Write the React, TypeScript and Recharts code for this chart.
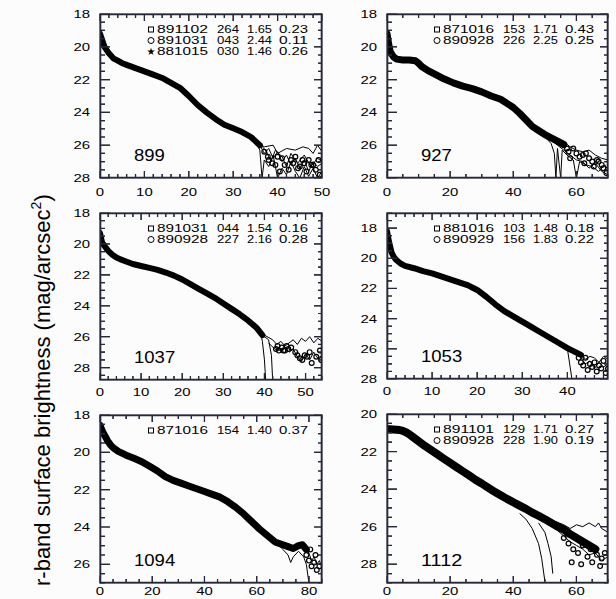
import React from 'react';
import { ComposedChart, Line, XAxis, YAxis } from 'recharts';

type Pt = [number, number];

// ---------- galaxy 899 ----------
const g899Band: Pt[] = [[0,19.2],[0.5,19.6],[1,20.0],[2,20.4],[3,20.7],[4,20.85],[5,21.0],[6,21.1],[8,21.3],[10,21.5],[12,21.7],[14,21.9],[16,22.2],[18,22.5],[20,23.0],[22,23.55],[24,24.0],[26,24.4],[28,24.75],[30,24.97],[32,25.2],[34,25.5],[35,25.75],[36,26.0]];
const g899TailA: Pt[] = [[35,25.6],[36,26.0],[37,26.5],[38,26.2],[39,26.8],[40,26.4],[41,27.0],[42,26.6],[43,27.2],[44,26.8],[45,27.4],[46,26.9],[47,27.6],[48,27.0],[49,27.3],[50,27.1]];
const g899TailB: Pt[] = [[35,25.8],[36,26.3],[36.5,28],[37,26.9],[38,27.3],[39,26.6],[40,28],[41,27.4],[42,27.8],[43,27.0],[44,27.6],[45,28],[46,27.3],[47,27.9],[48,27.4],[49,28],[50,27.6]];
const g899TailC: Pt[] = [[35,25.7],[37,26.1],[39,26.0],[40,26.5],[42,26.2],[44,26.3],[45.7,26.1],[47,26.2],[48,26.5],[49,26.0],[50,26.4]];
const g899TailD: Pt[] = [[36,25.9],[37.5,26.4],[38.5,27.0],[39.5,26.3],[41,26.7],[42,27.3],[43,26.5],[44.5,27.1],[46,26.6],[47.5,27.3],[49,26.8],[50,27.0]];
const g899Dots: Pt[] = [[37,26.4],[37.8,26.7],[38,26.9],[38.8,27.1],[39.5,27.2],[40,26.7],[40.5,27.6],[41,26.8],[41.6,27.2],[42.5,27.5],[43,26.9],[43.5,27.1],[44,26.7],[44.6,27.4],[45,27.3],[45.6,26.9],[46.5,27.6],[47,26.9],[47.6,27.2],[48,27.2],[48.6,27.5],[49.5,27.8],[49.2,26.9],[46,27.1]];

// ---------- galaxy 927 ----------
const g927Band: Pt[] = [[0,19.2],[0.5,19.8],[1,20.3],[2,20.6],[3,20.75],[5,20.8],[7,20.8],[9,20.85],[10,21.0],[11,21.2],[13,21.45],[15,21.65],[18,21.95],[21,22.2],[24,22.4],[27,22.55],[30,22.75],[33,23.0],[36,23.2],[38,23.45],[40,23.7],[42,24.05],[44,24.45],[46,24.85],[48,25.1],[50,25.35],[52,25.55],[54,25.75],[56,25.95]];
const g927TailA: Pt[] = [[50,25.5],[52,25.9],[53,26.5],[53.5,28],[54,26.2],[55,28],[55.5,26.3],[57,26.6],[59,26.9],[60,28],[61,27.0],[63,27.2],[65,27.3],[67,27.6],[69,27.2],[70,27.5]];
const g927TailB: Pt[] = [[50,25.2],[52,25.4],[54,25.6],[56,25.8],[58,26.1],[60,26.3],[62,26.4],[64,26.3],[66,26.6],[68,26.8],[70,26.9]];
const g927TailC: Pt[] = [[52,25.7],[54,26.0],[56,26.3],[58,26.6],[60,26.9],[62,27.0],[64,27.4],[66,27.1],[68,27.6],[70,27.8]];
const g927Dots: Pt[] = [[55,25.9],[56,26.0],[57,26.2],[57.5,26.4],[58,26.8],[59,26.2],[60,26.5],[61,26.7],[62,26.6],[62.5,27.1],[63,26.5],[64,26.8],[65,27.0],[65.5,27.3],[66.5,26.9],[67,27.0],[68,27.2],[68.5,27.4],[69.5,27.7]];

// ---------- galaxy 1037 ----------
const g1037Band: Pt[] = [[0,19.3],[0.5,19.9],[1,20.1],[2,20.45],[3,20.7],[4,20.88],[5,21.0],[6,21.1],[8,21.3],[10,21.43],[12,21.55],[14,21.68],[16,21.85],[18,22.05],[20,22.3],[22,22.6],[24,22.9],[26,23.2],[28,23.5],[30,23.85],[32,24.2],[34,24.55],[36,24.95],[38,25.4],[39.5,25.9]];
const g1037TailA: Pt[] = [[39,25.7],[39.5,26.3],[40,27.5],[40.3,28.8]];
const g1037TailB: Pt[] = [[40,26.0],[41,26.2],[41.7,27.2],[42,28.8]];
const g1037TailC: Pt[] = [[40,25.9],[42,26.2],[43,26.5],[44,26.3],[45,26.6],[46,26.4],[47,26.2],[48,26.5],[49,26.1],[50,26.3],[51,26.0],[52,26.4],[53,26.1],[54,26.3]];
const g1037TailD: Pt[] = [[41,26.4],[42.5,26.8],[44,26.9],[45,26.7],[46,27.0],[47,26.8],[48,27.3],[49,27.6],[50,27.1],[51,27.5],[52,27.0],[53,27.4],[54,27.2]];
const g1037Dots: Pt[] = [[42.8,26.8],[43.2,26.6],[43.5,26.9],[44.2,26.7],[44.6,26.9],[45,26.9],[45.4,26.6],[45.8,26.8],[46.5,26.7],[47.5,27.0],[48,27.2],[48.6,27.4],[49.2,27.5],[49.8,27.2],[50.4,27.3],[51,27.0],[51.5,27.7],[52.6,27.3],[53.5,26.9],[53.8,27.5]];

// ---------- galaxy 1053 ----------
const g1053Band: Pt[] = [[0,18.2],[0.3,18.7],[0.6,19.1],[1,19.6],[1.5,19.9],[2,20.1],[3,20.35],[4,20.5],[6,20.66],[8,20.85],[10,21.0],[12,21.2],[14,21.4],[16,21.6],[18,21.8],[19,21.95],[20,22.1],[22,22.55],[24,23.05],[26,23.5],[28,23.85],[30,24.2],[32,24.55],[34,24.9],[36,25.25],[38,25.6],[40,25.95],[42,26.25],[43,26.4]];
const g1053TailA: Pt[] = [[40,26.0],[40.5,27.0],[41,28]];
const g1053TailB: Pt[] = [[42,26.2],[43,26.6],[44,27.0],[45,26.8],[46,27.3],[47,26.9],[48,27.2],[49,27.0]];
const g1053TailC: Pt[] = [[42,26.4],[43,26.3],[44,26.7],[45,26.5],[46,26.6],[47,26.9],[48,26.5],[49,26.7]];
const g1053Dots: Pt[] = [[42.5,26.6],[43,26.9],[43.5,27.1],[44,26.6],[44.5,27.4],[45,27.0],[45.5,27.2],[46,26.9],[46.5,27.5],[47,27.1],[47.5,27.3],[48,26.8],[48.5,27.6],[49,27.3]];

// ---------- galaxy 1094 ----------
const g1094Band: Pt[] = [[0,18.55],[1,18.9],[2,19.15],[3,19.4],[4,19.6],[5,19.75],[7,19.95],[10,20.15],[13,20.32],[16,20.5],[19,20.75],[22,21.0],[25,21.3],[28,21.5],[31,21.65],[34,21.8],[37,21.95],[40,22.1],[43,22.25],[46,22.4],[49,22.65],[52,22.95],[55,23.3],[58,23.7],[61,24.1],[64,24.45],[67,24.8],[70,24.95],[72,25.05],[74,25.15],[76,25.0],[77.5,24.95],[79,25.2]];
const g1094TailA: Pt[] = [[68,24.9],[70,25.2],[72,25.5],[73,25.9],[74,25.6],[76,25.3],[78,25.6],[79,26.0],[80,27.0]];
const g1094TailB: Pt[] = [[76,25.1],[78,25.0],[80,25.4],[81,25.8],[82,25.6],[83,26.0],[84,25.8],[85,26.2]];
const g1094Dots: Pt[] = [[79,25.5],[80,25.8],[80.5,25.2],[81,26.1],[82,25.9],[82.5,25.5],[83,26.3],[84,26.1]];

// ---------- galaxy 1112 ----------
const g1112Band: Pt[] = [[0,20.8],[2,20.82],[4,20.85],[5,20.9],[6,20.97],[7,21.07],[8,21.2],[10,21.45],[12,21.7],[14,21.92],[16,22.15],[18,22.38],[20,22.6],[22,22.83],[24,23.05],[26,23.27],[28,23.5],[30,23.7],[32,23.92],[34,24.13],[36,24.33],[38,24.52],[40,24.7],[42,24.88],[44,25.05],[46,25.25],[48,25.42],[50,25.6],[52,25.8],[54,26.0],[56,26.15],[58,26.4],[60,26.6],[62,26.8],[64,27.0],[66,27.2]];
const g1112TailA: Pt[] = [[42,25.3],[44,25.6],[46,26.1],[48,26.9],[49,27.7],[50,28.9]];
const g1112TailB: Pt[] = [[48,25.8],[50,26.3],[51,26.9],[52,27.6],[52.5,28.5]];
const g1112TailC: Pt[] = [[50,25.5],[53,25.7],[56,25.9],[58,26.1],[60,25.9],[62,26.0],[64,25.8],[66,26.0],[67,25.8],[68,26.1],[70,26.3]];
const g1112TailD: Pt[] = [[54,26.2],[56,26.5],[58,26.8],[60,27.0],[62,27.2],[64,27.5],[66,27.4],[68,27.8],[70,27.6]];
const g1112Dots: Pt[] = [[56,26.6],[57.5,26.9],[58.5,27.9],[59,27.2],[60.5,27.4],[61.5,28.0],[62,27.0],[63.5,27.6],[64.5,27.2],[65,27.9],[66.5,27.5],[67.5,28.1],[68,27.7],[69,27.4]];

// ---------- legends (marker, date, number, value, value) ----------
const legend899 = [['sq','891102','264','1.65','0.23'],['ci','891031','043','2.44','0.11'],['st','881015','030','1.46','0.26']];
const legend927 = [['sq','871016','153','1.71','0.43'],['ci','890928','226','2.25','0.25']];
const legend1037 = [['sq','891031','044','1.54','0.16'],['ci','890928','227','2.16','0.28']];
const legend1053 = [['sq','881016','103','1.48','0.18'],['ci','890929','156','1.83','0.22']];
const legend1094 = [['sq','871016','154','1.40','0.37']];
const legend1112 = [['sq','891101','129','1.71','0.27'],['ci','890928','228','1.90','0.19']];

// ---------- axis tick labels ----------
const xTicks899 = [0, 10, 20, 30, 40, 50];
const xTicks927 = [0, 20, 40, 60];
const xTicks1037 = [0, 10, 20, 30, 40, 50];
const xTicks1053 = [0, 10, 20, 30, 40];
const xTicks1094 = [0, 20, 40, 60, 80];
const xTicks1112 = [0, 20, 40, 60];
const yTicks18 = [18, 20, 22, 24, 26, 28];
const yTicks1094 = [18, 20, 22, 24, 26];
const yTicks1112 = [20, 22, 24, 26, 28];

const INK = '#000000';
const FRAME = '#26283a';
const FONT = "'Liberation Sans', Arial, Helvetica, sans-serif";

const toXY = (a: Pt[]) => a.map(([x, y]) => ({ x, y }));
const steps = (lo: number, hi: number, step: number) => {
  const out: number[] = [];
  for (let v = lo; v <= hi + 1e-9; v += step) out.push(Math.round(v * 1000) / 1000);
  return out;
};
const isIn = (arr: number[], v: number) => arr.some((m) => Math.abs(m - v) < 1e-6);

function labelTick(side: string, labelDy: number) {
  return (props: any) => {
    const x = Number(props.x);
    const y = Number(props.y);
    const s = String(props.payload && props.payload.value);
    if (side === 'bottom') {
      return (
        <text x={x} y={y + labelDy} textAnchor="middle" fontSize={11} fontFamily={FONT} fill={INK} stroke="none"
          textLength={s.length * 8.3} lengthAdjust="spacingAndGlyphs">{s}</text>
      );
    }
    return (
      <text x={x - 10} y={y + 4} textAnchor="end" fontSize={11} fontFamily={FONT} fill={INK} stroke="none"
        textLength={s.length * 8.3} lengthAdjust="spacingAndGlyphs">{s}</text>
    );
  };
}

type PanelCfg = {
  left: number; top: number; right: number; bottom: number; xLabelDy: number;
  xDomain: [number, number]; yDomain: [number, number];
  xMajor: number[]; xStep: number; yMajor: number[];
  band: Pt[]; bandWidth: number; tails: Pt[][]; dots: Pt[];
  legend: string[][]; name: string;
};

const panels: PanelCfg[] = [
  { left: 100, top: 14, right: 322, bottom: 178, xLabelDy: 18, xDomain: [0, 50], yDomain: [18, 28], xMajor: xTicks899, xStep: 2, yMajor: yTicks18,
    band: g899Band, bandWidth: 6, tails: [g899TailA, g899TailB, g899TailC, g899TailD], dots: g899Dots, legend: legend899, name: '899' },
  { left: 387, top: 14, right: 608, bottom: 178, xLabelDy: 18, xDomain: [0, 70], yDomain: [18, 28], xMajor: xTicks927, xStep: 5, yMajor: yTicks18,
    band: g927Band, bandWidth: 7, tails: [g927TailA, g927TailB, g927TailC], dots: g927Dots, legend: legend927, name: '927' },
  { left: 100, top: 213, right: 322, bottom: 380, xLabelDy: 16, xDomain: [0, 54], yDomain: [18, 28.8], xMajor: xTicks1037, xStep: 2, yMajor: yTicks18,
    band: g1037Band, bandWidth: 6, tails: [g1037TailA, g1037TailB, g1037TailC, g1037TailD], dots: g1037Dots, legend: legend1037, name: '1037' },
  { left: 387, top: 213, right: 608, bottom: 379, xLabelDy: 16, xDomain: [0, 49], yDomain: [17, 28], xMajor: xTicks1053, xStep: 2, yMajor: yTicks18,
    band: g1053Band, bandWidth: 6, tails: [g1053TailA, g1053TailB, g1053TailC], dots: g1053Dots, legend: legend1053, name: '1053' },
  { left: 100, top: 415, right: 322, bottom: 583, xLabelDy: 12, xDomain: [0, 85], yDomain: [18, 27], xMajor: xTicks1094, xStep: 5, yMajor: yTicks1094,
    band: g1094Band, bandWidth: 7, tails: [g1094TailA, g1094TailB], dots: g1094Dots, legend: legend1094, name: '1094' },
  { left: 387, top: 414, right: 608, bottom: 583, xLabelDy: 12, xDomain: [0, 70], yDomain: [20, 29], xMajor: xTicks1112, xStep: 5, yMajor: yTicks1112,
    band: g1112Band, bandWidth: 8, tails: [g1112TailA, g1112TailB, g1112TailC, g1112TailD], dots: g1112Dots, legend: legend1112, name: '1112' },
];

const ML = 40, MT = 10, MR = 10, XH = 24;

// Frame + inward tick marks expressed in data units, so the library's scales place them
function frameSeries(c: PanelCfg) {
  const [x0, x1] = c.xDomain;
  const [y0, y1] = c.yDomain;
  const w = c.right - c.left;
  const h = c.bottom - c.top;
  const ux = (x1 - x0) / w;
  const uy = (y1 - y0) / h;
  const xs = steps(x0, x1, c.xStep);
  const ys = steps(y0, y1, 0.5);
  const bottom: { x: number; y: number }[] = [];
  const top: { x: number; y: number }[] = [];
  xs.forEach((v) => {
    const L = (isIn(c.xMajor, v) ? 7 : 4) * uy;
    bottom.push({ x: v, y: y1 }, { x: v, y: y1 - L }, { x: v, y: y1 });
    top.push({ x: v, y: y0 }, { x: v, y: y0 + L }, { x: v, y: y0 });
  });
  const left: { x: number; y: number }[] = [];
  const right: { x: number; y: number }[] = [];
  ys.forEach((v) => {
    const M = isIn(c.yMajor, v);
    left.push({ x: x0, y: v }, { x: x0 + (M ? 10 : 5) * ux, y: v }, { x: x0, y: v });
    right.push({ x: x1, y: v }, { x: x1 - (M ? 8 : 4) * ux, y: v }, { x: x1, y: v });
  });
  const box = [{ x: x0, y: y0 }, { x: x1, y: y0 }, { x: x1, y: y1 }, { x: x0, y: y1 }, { x: x0, y: y0 }];
  return { box, ticks: [bottom, top, left, right] };
}

function Panel({ c }: { c: PanelCfg }) {
  const w = c.right - c.left;
  const h = c.bottom - c.top;
  const fr = frameSeries(c);
  return (
    <div style={{ position: 'absolute', left: c.left - ML, top: c.top - MT }}>
      <ComposedChart width={w + ML + MR} height={h + MT + XH} margin={{ top: MT, right: MR, left: 0, bottom: 0 }}>
        <XAxis xAxisId="b" dataKey="x" type="number" domain={c.xDomain} allowDataOverflow ticks={c.xMajor} interval={0}
          height={XH} tickSize={0} tickMargin={0} tickLine={false} axisLine={false}
          tick={labelTick('bottom', c.xLabelDy)} />
        <YAxis yAxisId="l" dataKey="y" type="number" domain={c.yDomain} reversed allowDataOverflow ticks={c.yMajor} interval={0}
          width={ML} tickSize={0} tickMargin={0} tickLine={false} axisLine={false}
          tick={labelTick('left', 0)} />
        {c.tails.map((t, i) => (
          <Line key={'t' + i} xAxisId="b" yAxisId="l" data={toXY(t)} dataKey="y" type="linear" stroke={INK}
            strokeWidth={1} dot={false} activeDot={false} isAnimationActive={false} />
        ))}
        <Line xAxisId="b" yAxisId="l" data={toXY(c.dots)} dataKey="y" stroke="none"
          dot={{ r: 2.4, fill: 'none', stroke: INK, strokeWidth: 1.2 }} activeDot={false} isAnimationActive={false} />
        <Line xAxisId="b" yAxisId="l" data={toXY(c.band)} dataKey="y" type="linear" stroke={INK}
          strokeWidth={c.bandWidth} strokeLinejoin="round" strokeLinecap="round" dot={false} activeDot={false} isAnimationActive={false} />
        {fr.ticks.map((t, i) => (
          <Line key={'k' + i} xAxisId="b" yAxisId="l" data={t} dataKey="y" type="linear" stroke={FRAME}
            strokeWidth={1.2} dot={false} activeDot={false} isAnimationActive={false} />
        ))}
        <Line xAxisId="b" yAxisId="l" data={fr.box} dataKey="y" type="linear" stroke={FRAME}
          strokeWidth={2.6} dot={false} activeDot={false} isAnimationActive={false} />
      </ComposedChart>
    </div>
  );
}

// Same frame repeated above everything, using the plot-area mapping
function Frame({ c }: { c: PanelCfg }) {
  const w = c.right - c.left;
  const h = c.bottom - c.top;
  const sx = (v: number) => c.left + ((v - c.xDomain[0]) / (c.xDomain[1] - c.xDomain[0])) * w;
  const sy = (v: number) => c.top + ((v - c.yDomain[0]) / (c.yDomain[1] - c.yDomain[0])) * h;
  let d = '';
  steps(c.xDomain[0], c.xDomain[1], c.xStep).forEach((v) => {
    const L = isIn(c.xMajor, v) ? 7 : 4;
    const px = sx(v);
    d += `M${px},${c.bottom}v${-L}M${px},${c.top}v${L}`;
  });
  steps(c.yDomain[0], c.yDomain[1], 0.5).forEach((v) => {
    const M = isIn(c.yMajor, v);
    const py = sy(v);
    d += `M${c.left},${py}h${M ? 10 : 5}M${c.right},${py}h${M ? -8 : -4}`;
  });
  return (
    <g>
      <rect x={c.left} y={c.top} width={w} height={h} fill="none" stroke={FRAME} strokeWidth={1.3} />
      <path d={d} stroke={FRAME} strokeWidth={1.1} fill="none" />
    </g>
  );
}

function Marker({ kind, cx, cy }: { kind: string; cx: number; cy: number }) {
  if (kind === 'sq') return <rect x={cx - 2.5} y={cy - 2.5} width={5} height={5} fill="none" stroke={INK} strokeWidth={1} />;
  if (kind === 'ci') return <circle cx={cx} cy={cy} r={3} fill="none" stroke={INK} strokeWidth={1} />;
  return <text x={cx} y={cy + 3.5} textAnchor="middle" fontSize={10} fontFamily="'DejaVu Sans', sans-serif" fill={INK}>★</text>;
}

function Overlay() {
  const txt = { fontFamily: FONT, fill: INK, lengthAdjust: 'spacingAndGlyphs' as const };
  return (
    <svg width={616} height={599} style={{ position: 'absolute', left: 0, top: 0, pointerEvents: 'none' }}>
      {panels.map((c, pi) => (
        <g key={pi}>
          <Frame c={c} />
          {c.legend.map((row, i) => {
            const by = c.top + 19 + 11 * i;
            const R = c.right;
            return (
              <g key={i}>
                <Marker kind={row[0]} cx={R - 171} cy={by - 3.5} />
                <text x={R - 165} y={by} fontSize={10} textLength={51} {...txt}>{row[1]}</text>
                <text x={R - 105} y={by} fontSize={10} textLength={22} {...txt}>{row[2]}</text>
                <text x={R - 75} y={by} fontSize={10} textLength={25} {...txt}>{row[3]}</text>
                <text x={R - 43} y={by} fontSize={10} textLength={29} {...txt}>{row[4]}</text>
              </g>
            );
          })}
          <text x={c.left + 34} y={c.bottom - 17} fontSize={16} textLength={c.name.length * 10.3} {...txt}>{c.name}</text>
        </g>
      ))}
      <text transform="translate(50,586) rotate(-90)" fontSize={22} fontFamily={FONT} fill={INK}>
        r-band surface brightness (mag/arcsec<tspan fontSize={14} dy={-9}>2</tspan><tspan dy={9}>)</tspan>
      </text>
    </svg>
  );
}

export default function App() {
  return (
    <div style={{ position: 'absolute', left: 0, top: 0, width: 616, height: 599, overflow: 'hidden', background: '#fcfcfc' }}>
      {panels.map((c, i) => <Panel key={i} c={c} />)}
      <Overlay />
    </div>
  );
}
